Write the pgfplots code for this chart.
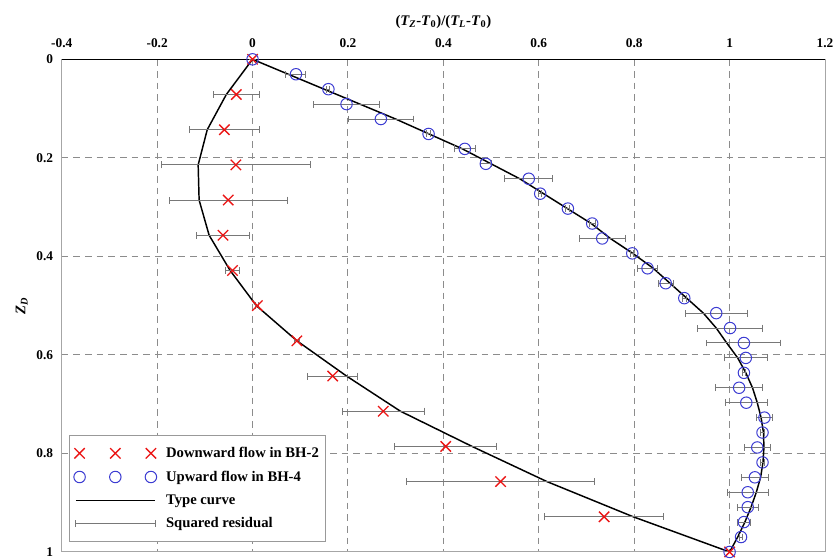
\documentclass[border=0pt]{standalone}
\usepackage{fontspec}
\setmainfont{Liberation Serif}
\usepackage{pgfplots}
\usepackage{pgfplotstable}
\pgfplotsset{compat=1.18}
\definecolor{mkred}{RGB}{235,20,20}
\definecolor{mkblue}{RGB}{60,60,210}
\definecolor{errgray}{RGB}{120,120,120}
\definecolor{gridgray}{RGB}{140,140,140}

% Downward flow in BH-2: depth y, value x, squared residual e (half width)
\pgfplotstableread{
y x e
0 0 0
0.0714 -0.034 0.048
0.1429 -0.059 0.0735
0.2143 -0.035 0.156
0.2857 -0.051 0.1235
0.3571 -0.062 0.0555
0.4286 -0.042 0.014
0.5 0.010 0.003
0.5714 0.093 0.006
0.6429 0.168 0.0525
0.7143 0.274 0.0855
0.7857 0.405 0.1065
0.8571 0.520 0.197
0.9286 0.737 0.124
1 1 0
}\downdata

% Upward flow in BH-4
\pgfplotstableread{
y x e
0 0 0
0.0303 0.091 0.021
0.0606 0.159 0.003
0.0909 0.197 0.0695
0.1212 0.269 0.068
0.1515 0.369 0.004
0.1818 0.445 0.0215
0.2121 0.489 0.012
0.2424 0.579 0.05
0.2727 0.603 0.003
0.3030 0.661 0.004
0.3333 0.712 0.006
0.3636 0.733 0.048
0.3939 0.796 0.003
0.4242 0.828 0.021
0.4545 0.866 0.0155
0.4848 0.905 0.004
0.5152 0.972 0.065
0.5455 1.001 0.068
0.5758 1.030 0.0775
0.6061 1.034 0.045
0.6364 1.030 0.004
0.6667 1.020 0.049
0.6970 1.035 0.0435
0.7273 1.073 0.0165
0.7576 1.069 0.004
0.7879 1.058 0.0275
0.8182 1.069 0.004
0.8485 1.053 0.0275
0.8788 1.038 0.0425
0.9091 1.038 0.022
0.9394 1.030 0.0135
0.9697 1.024 0.004
1 1 0
}\updata

% Type curves
\pgfplotstableread{
y x
0 0
0.0714 -0.055
0.1429 -0.095
0.2143 -0.114
0.2857 -0.112
0.3571 -0.091
0.4286 -0.047
0.5 0.008
0.5714 0.093
0.6429 0.197
0.7143 0.31
0.7857 0.46
0.8571 0.617
0.9286 0.798
1 1
}\downcurve

\pgfplotstableread{
y x
0 0
0.1212 0.30
0.1515 0.37
0.1818 0.44
0.2121 0.50
0.2424 0.56
0.2727 0.61
0.3030 0.66
0.3333 0.71
0.3636 0.75
0.3939 0.797
0.4242 0.84
0.4545 0.875
0.4848 0.91
0.5152 0.945
0.5455 0.972
0.5758 0.994
0.6061 1.017
0.6364 1.034
0.6667 1.048
0.6970 1.058
0.7273 1.066
0.7576 1.071
0.7879 1.072
0.8182 1.070
0.8485 1.065
0.8788 1.056
0.9091 1.045
0.9394 1.032
0.9697 1.017
1 1
}\upcurve

\begin{document}
\begin{tikzpicture}
\begin{axis}[
  scale only axis, width=572.5pt, height=369.5pt,
  xmin=-0.4, xmax=1.2, ymin=0, ymax=1, y dir=reverse,
  xtick={-0.4,-0.2,0,0.2,0.4,0.6,0.8,1,1.2},
  xticklabels={-0.4,-0.2,0,0.2,0.4,0.6,0.8,1,1.2},
  ytick={0,0.2,0.4,0.6,0.8,1},
  yticklabels={0,0.2,0.4,0.6,0.8,1},
  xticklabel pos=upper,
  major tick length=0pt,
  tick style={draw=none},
  grid=major,
  major grid style={gridgray, line width=0.75pt, dash pattern=on 5pt off 3.75pt},
  axis line style={gray!70, line width=0.75pt},
  ticklabel style={font=\fontsize{10}{12}\selectfont\bfseries},
  xticklabel style={yshift=5.5pt},
  yticklabel style={xshift=-3pt},
  xlabel={(\textit{T\textsubscript{Z}}-\textit{T}\textsubscript{0})/(\textit{T\textsubscript{L}}-\textit{T}\textsubscript{0})},
  xlabel style={at={(axis description cs:0.5,1)}, anchor=base, yshift=25.5pt, font=\fontsize{11}{13}\selectfont\bfseries},
  ylabel={\textit{Z\textsubscript{D}}},
  ylabel style={at={(axis description cs:-0.0524,0.5)}, anchor=center, font=\fontsize{11}{13}\selectfont\bfseries},
  legend cell align=left,
  legend style={at={(axis description cs:0.01,0.02)}, anchor=south west, draw=gray!80, line width=0.75pt,
    font=\fontsize{11}{13}\selectfont\bfseries, row sep=4.5pt, inner ysep=7pt},
]
\draw[black, line width=1pt] (axis cs:-0.4,0) -- (axis cs:1.2,0);
\coordinate (bl) at (axis cs:-0.4,1);
\coordinate (tr) at (axis cs:1.2,0);

\addplot[black, line width=1.1pt, forget plot] table[x=x, y=y] {\downcurve};
\addplot[black, line width=1.1pt, forget plot] table[x=x, y=y] {\upcurve};

\addplot[only marks, mark=x, mkred, mark size=5.5pt, line width=1pt, forget plot,
  error bars/.cd, x dir=both, x explicit, error mark=|,
  error bar style={errgray, line width=0.75pt},
  error mark options={errgray, mark size=2.6pt, line width=0.75pt}]
  table[x=x, y=y, x error=e] {\downdata};
\addplot[only marks, mark=o, mkblue, mark size=4.3pt, line width=0.75pt, forget plot,
  error bars/.cd, x dir=both, x explicit, error mark=|,
  error bar style={errgray, line width=0.75pt},
  error mark options={errgray, mark size=2.6pt, line width=0.75pt}]
  table[x=x, y=y, x error=e] {\updata};

\addlegendimage{legend image code/.code={\draw[mkred, line width=1pt] plot[mark=x, mark size=5.5pt, only marks] coordinates {(0pt,0pt) (26.8pt,0pt) (53.5pt,0pt)}; \path (62.5pt,0pt);}}
\addlegendentry{Downward flow in BH-2\hspace{4pt}}
\addlegendimage{legend image code/.code={\draw[mkblue, line width=0.75pt] plot[mark=o, mark size=4.3pt, only marks] coordinates {(0pt,0pt) (26.8pt,0pt) (53.5pt,0pt)}; \path (62.5pt,0pt);}}
\addlegendentry{Upward flow in BH-4}
\addlegendimage{legend image code/.code={\draw[black, line width=1.1pt] (-2.7pt,0pt) -- (56.8pt,0pt); \path (62.5pt,0pt);}}
\addlegendentry{Type curve}
\addlegendimage{legend image code/.code={\draw[errgray, line width=0.75pt] (-2.7pt,0pt) -- (56.8pt,0pt) (-2.7pt,-2.6pt) -- (-2.7pt,2.6pt) (56.8pt,-2.6pt) -- (56.8pt,2.6pt); \path (62.5pt,0pt);}}
\addlegendentry{Squared residual}
\end{axis}
\pgfresetboundingbox
\path[use as bounding box] ([shift={(-46.3pt,-5.25pt)}]bl) rectangle ([shift={(6.75pt,44.5pt)}]tr);
\end{tikzpicture}
\end{document}
